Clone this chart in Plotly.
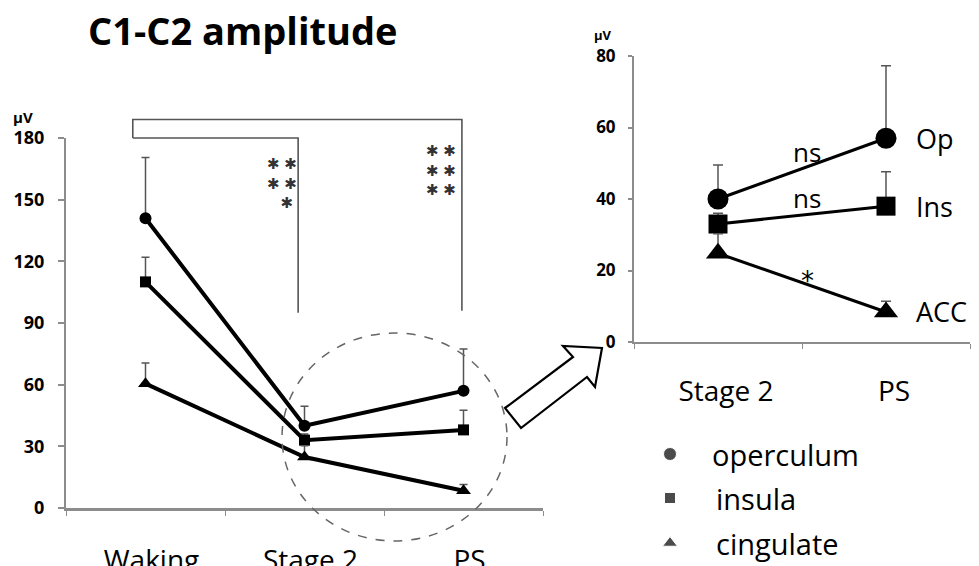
import plotly.graph_objects as go

# ---------------- data ----------------
stages_left = ["Waking", "Stage 2", "PS"]
stages_right = ["Stage 2", "PS"]

operculum = [141, 40, 57]
operculum_err = [29.5, 9.5, 20.3]
insula = [110, 33, 38]
insula_err = [12, 3, 9.6]
cingulate = [60.5, 24.8, 8.4]
cingulate_err = [10, 5.5, 3]

left_yticks = [0, 30, 60, 90, 120, 150, 180]
right_yticks = [0, 20, 40, 60, 80]

series_names = ["operculum", "insula", "cingulate"]
right_labels = ["Op", "Ins", "ACC"]
right_sig = ["ns", "ns", "*"]
# significance star stacks: (category index, value level of middle row, text)
left_sig = [(0.86, 158, "✱ ✱<br>✱ ✱<br>  ✱"), (1.86, 164, "✱ ✱<br>✱ ✱<br>✱ ✱")]

# ---------------- geometry ----------------
W, H = 979, 566
FONT = "Open Sans"
LX = [66 / W, 543 / W]
LY = [1 - 508 / H, 1 - 138 / H]
RX = [634 / W, 970 / W]
RY = [1 - 342 / H, 1 - 56 / H]
AX_COL = "#8c8c8c"
ERR_COL = "#555555"


def lx(i):
    return LX[0] + (i + 0.5) / 3 * (LX[1] - LX[0])


def ly(v):
    return LY[0] + v / 180 * (LY[1] - LY[0])


fig = go.Figure()

symbols = ["circle", "square", "triangle-up"]
vals = [operculum, insula, cingulate]
errs = [operculum_err, insula_err, cingulate_err]
left_sizes = [12, 11, 13]
right_sizes = [21, 19, 21]

for name, v, e, sym, ls, rs in zip(series_names, vals, errs, symbols, left_sizes, right_sizes):
    fig.add_trace(go.Scatter(
        x=stages_left, y=v, mode="lines+markers", name=name, showlegend=False,
        line=dict(color="black", width=4),
        marker=dict(symbol=sym, size=ls, color="black"),
        error_y=dict(type="data", array=e, arrayminus=[0] * len(e), symmetric=False,
                     color=ERR_COL, thickness=1.5, width=4),
        cliponaxis=False, xaxis="x", yaxis="y"))
    fig.add_trace(go.Scatter(
        x=stages_right, y=v[1:], mode="lines+markers", name=name, showlegend=False,
        line=dict(color="black", width=3),
        marker=dict(symbol=sym, size=rs, color="black"),
        error_y=dict(type="data", array=e[1:], arrayminus=[0] * (len(e) - 1), symmetric=False,
                     color=ERR_COL, thickness=1.5, width=5),
        cliponaxis=False, xaxis="x2", yaxis="y2"))

# legend markers on a hidden pixel-space axis
leg_rows = [454, 498, 543]
fig.add_trace(go.Scatter(
    x=[670] * 3, y=leg_rows, mode="markers", showlegend=False,
    marker=dict(symbol=symbols, size=[13, 11, 13], color="black"),
    xaxis="x3", yaxis="y3", cliponaxis=False))

annotations = []
# title
annotations.append(dict(text="<b>C1-C2 amplitude</b>", x=242 / W, y=1 - 30 / H, xref="paper", yref="paper",
                        showarrow=False, font=dict(family=FONT, size=38, color="black"),
                        xanchor="center", yanchor="middle"))
# unit labels
annotations.append(dict(text="<b>µV</b>", x=11 / W, y=1 - 117 / H, xref="paper", yref="paper",
                        showarrow=False, font=dict(family=FONT, size=15, color="black"),
                        xanchor="left", yanchor="middle"))
annotations.append(dict(text="<b>µV</b>", x=592 / W, y=1 - 35 / H, xref="paper", yref="paper",
                        showarrow=False, font=dict(family=FONT, size=13, color="black"),
                        xanchor="left", yanchor="middle"))
# left significance stars
for xi, lvl, txt in left_sig:
    annotations.append(dict(text=txt, x=xi, y=lvl, xref="x", yref="y", showarrow=False,
                            font=dict(family="DejaVu Sans", size=15, color="#333"), align="center",
                            xanchor="center", yanchor="middle"))
# right series labels & significance
for lab, sig, v in zip(right_labels, right_sig, vals):
    annotations.append(dict(text=lab, x=1, y=v[2], xref="x2", yref="y2", showarrow=False,
                            xshift=28, xanchor="left", yanchor="middle",
                            font=dict(family=FONT, size=27, color="black")))
    mid = (v[1] + v[2]) / 2
    annotations.append(dict(text=sig, x=0.53, y=mid, xref="x2", yref="y2", showarrow=False,
                            yshift=17 if sig == "ns" else 2, xanchor="center", yanchor="middle",
                            font=dict(family=FONT if sig == "ns" else "DejaVu Sans",
                                      size=26, color="black")))
# legend text
for lab, yy in zip(series_names, leg_rows):
    annotations.append(dict(text=lab, x=710 if lab == "operculum" else 714, y=yy, xref="x3", yref="y3",
                            showarrow=False, xanchor="left", yanchor="middle",
                            font=dict(family=FONT, size=29, color="black")))

shapes = []
# significance brackets
xb0, xb1, xb2 = lx(-0.08), lx(0.96), lx(1.99)
shapes.append(dict(type="path", xref="paper", yref="paper",
                   path=f"M {xb0},{ly(180)} L {xb0},{ly(189)} L {xb2},{ly(189)} L {xb2},{ly(96)}",
                   line=dict(color="#555555", width=1.6)))
shapes.append(dict(type="path", xref="paper", yref="paper",
                   path=f"M {xb0},{ly(180)} L {xb1},{ly(180)} L {xb1},{ly(95)}",
                   line=dict(color="#555555", width=1.6)))
# dashed circle
shapes.append(dict(type="circle", xref="paper", yref="paper",
                   x0=282 / W, x1=507 / W, y0=1 - 541 / H, y1=1 - 333 / H,
                   line=dict(color="#666666", width=1.5, dash="dash")))
# hollow arrow
pts = [(505, 408), (573, 357), (563, 346), (602, 348), (595, 387), (587, 377), (521, 428)]
path = "M " + " L ".join(f"{px / W},{1 - py / H}" for px, py in pts) + " Z"
shapes.append(dict(type="path", xref="paper", yref="paper", path=path,
                   line=dict(color="black", width=2.2), fillcolor="white"))

fig.update_layout(
    width=W, height=H, margin=dict(l=0, r=0, t=0, b=0, autoexpand=False),
    paper_bgcolor="white", plot_bgcolor="rgba(0,0,0,0)",
    annotations=annotations, shapes=shapes,
    xaxis=dict(domain=LX, type="category", categoryorder="array", categoryarray=stages_left,
               range=[-0.5, 2.5], showline=True, linecolor=AX_COL, linewidth=3,
               ticks="outside", tickson="boundaries", ticklen=5, tickcolor=AX_COL, tickwidth=1,
               showgrid=False, zeroline=False, ticklabelstandoff=25, ticklabelshift=6,
               automargin=False,
               tickfont=dict(family=FONT, size=28, color="black"), anchor="y"),
    yaxis=dict(domain=LY, range=[0, 180], tickvals=left_yticks, showline=True, linecolor=AX_COL,
               linewidth=2, ticks="outside", ticklen=6, tickcolor=AX_COL, tickwidth=1.5,
               showgrid=False, zeroline=False, ticklabelstandoff=10, automargin=False,
               tickfont=dict(family=FONT, size=18, color="black", weight="bold"), anchor="x"),
    xaxis2=dict(domain=RX, type="category", categoryorder="array", categoryarray=stages_right,
                range=[-0.5, 1.5], showline=True, linecolor=AX_COL, linewidth=2,
                ticks="outside", tickson="boundaries", ticklen=5, tickcolor=AX_COL, tickwidth=1,
                showgrid=False, zeroline=False, ticklabelstandoff=23, ticklabelshift=8,
                automargin=False,
                tickfont=dict(family=FONT, size=28, color="black"), anchor="y2"),
    yaxis2=dict(domain=RY, range=[0, 80], tickvals=right_yticks, showline=True, linecolor=AX_COL,
                linewidth=2, ticks="outside", ticklen=4, tickcolor=AX_COL, tickwidth=1.5,
                showgrid=False, zeroline=False, ticklabelstandoff=9, automargin=False,
                tickfont=dict(family=FONT, size=17, color="black", weight="bold"), anchor="x2"),
    xaxis3=dict(domain=[0, 1], range=[0, W], visible=False, anchor="y3", fixedrange=True,
                automargin=False),
    yaxis3=dict(domain=[0, 1], range=[H, 0], visible=False, anchor="x3", fixedrange=True,
                automargin=False),
)

fig.write_html("out.html", config={"displayModeBar": False},
               post_script="document.body.style.margin='0';document.body.style.padding='0';")
